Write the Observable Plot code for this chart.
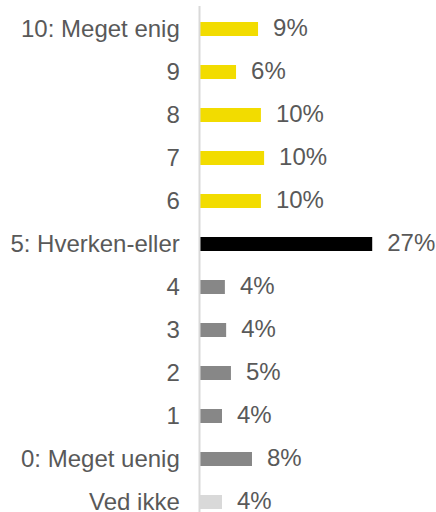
<!DOCTYPE html>
<html>
<head>
<meta charset="utf-8">
<script src="https://cdn.jsdelivr.net/npm/d3@7"></script>
<script src="https://cdn.jsdelivr.net/npm/@observablehq/plot@0.6"></script>
<style>
  html, body { margin: 0; padding: 0; background: #fff; }
</style>
</head>
<body>
<div id="chart"></div>
<script>
const categories = ["10: Meget enig", "9", "8", "7", "6", "5: Hverken-eller", "4", "3", "2", "1", "0: Meget uenig", "Ved ikke"];
const values = [9.1, 5.65, 9.55, 10.05, 9.55, 27.0, 3.9, 4.1, 4.85, 3.45, 8.15, 3.45];
const valueLabels = ["9%", "6%", "10%", "10%", "10%", "27%", "4%", "4%", "5%", "4%", "8%", "4%"];
const groups = ["enig", "enig", "enig", "enig", "enig", "neutral", "uenig", "uenig", "uenig", "uenig", "uenig", "vedikke"];
const groupNames = ["enig", "neutral", "uenig", "vedikke"];
const groupColors = ["#f2dc00", "#000000", "#878787", "#d9d9d9"];

const data = categories.map((c, i) => ({cat: c, value: values[i], label: valueLabels[i], group: groups[i]}));

const chart = Plot.plot({
  width: 436,
  height: 512,
  marginLeft: 200,
  marginRight: 0,
  marginTop: 20.7,
  marginBottom: 2.1,
  style: {fontFamily: "'Liberation Sans', Arial, sans-serif", fontSize: "24px", color: "#595959", background: "#fff"},
  x: {domain: [0, 37], axis: null},
  y: {domain: categories, paddingInner: 0.676, paddingOuter: 0, label: null},
  color: {domain: groupNames, range: groupColors},
  marks: [
    Plot.barX(data, {x: "value", y: "cat", fill: "group"}),
    Plot.ruleX([0], {stroke: "#d9d9d9", strokeWidth: 2, dx: -1, insetTop: -14.7, insetBottom: -2.1}),
    Plot.text(data, {x: "value", y: "cat", text: "label", textAnchor: "start", dx: 14.5, dy: -0.7, fontSize: 24, fill: "#595959"}),
    Plot.axisY({tickSize: 0, tickPadding: 20.7, fontSize: 24, label: null})
  ]
});
document.getElementById("chart").appendChild(chart);
</script>
</body>
</html>
